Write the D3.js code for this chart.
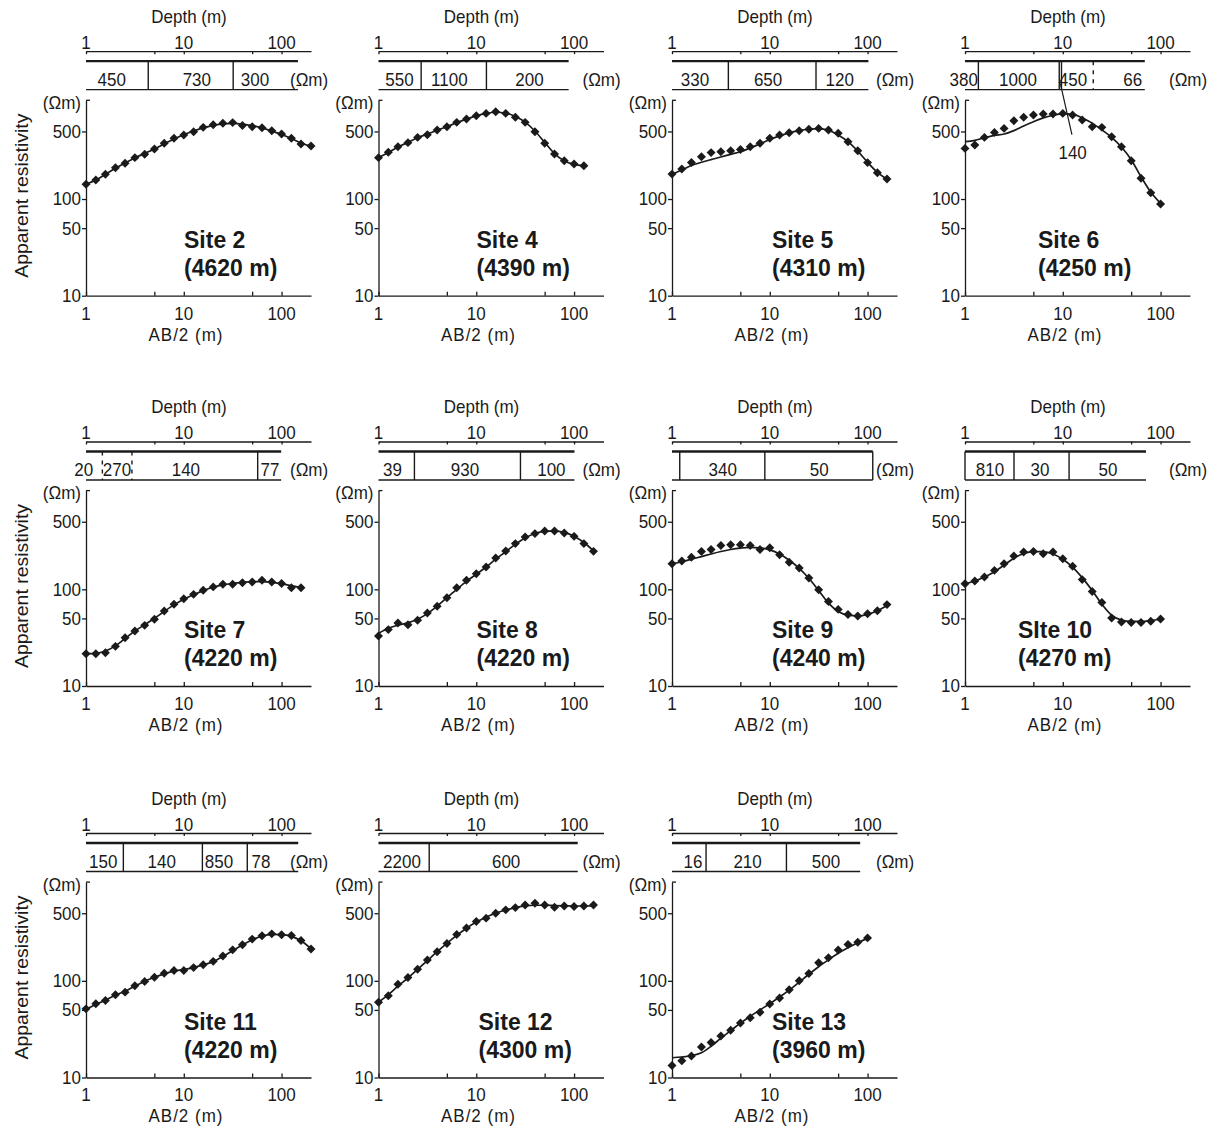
<!DOCTYPE html>
<html><head><meta charset="utf-8">
<script src="https://cdn.jsdelivr.net/npm/d3@7"></script>
<style>
body{margin:0;background:#fff;}
svg text{font-family:"Liberation Sans", Arial, Helvetica, sans-serif; fill:#1a1a1a;}
</style></head><body>
<svg id="chart" width="1219" height="1128"></svg>
<script>
// ---------- DATA ----------
// AB/2 electrode spacings (m)
const ab200 = [1, 1.26, 1.58, 2, 2.51, 3.16, 3.98, 5.01, 6.31, 7.94, 10, 12.6, 15.8, 20, 25.1, 31.6, 39.8, 50.1, 63.1, 79.4, 100, 126, 158, 200];
const ab158 = [1, 1.26, 1.58, 2, 2.51, 3.16, 3.98, 5.01, 6.31, 7.94, 10, 12.6, 15.8, 20, 25.1, 31.6, 39.8, 50.1, 63.1, 79.4, 100, 126, 158];
const ab126 = [1, 1.26, 1.58, 2, 2.51, 3.16, 3.98, 5.01, 6.31, 7.94, 10, 12.6, 15.8, 20, 25.1, 31.6, 39.8, 50.1, 63.1, 79.4, 100, 126];
const ab100 = [1, 1.26, 1.58, 2, 2.51, 3.16, 3.98, 5.01, 6.31, 7.94, 10, 12.6, 15.8, 20, 25.1, 31.6, 39.8, 50.1, 63.1, 79.4, 100];

const siteNames = ["Site 2", "Site 4", "Site 5", "Site 6", "Site 7", "Site 8", "Site 9", "SIte 10", "Site 11", "Site 12", "Site 13"];
const siteElev  = ["(4620 m)", "(4390 m)", "(4310 m)", "(4250 m)", "(4220 m)", "(4220 m)", "(4240 m)", "(4270 m)", "(4220 m)", "(4300 m)", "(3960 m)"];

// measured apparent resistivity (Ohm m)
const obs2  = [142,157,180,211,234,268,290,329,377,425,460,497,551,587,607,617,575,560,547,509,470,425,371,353];
const obs4  = [268,304,348,383,434,463,518,560,621,673,728,769,800,769,700,621,497,377,292,249,230,221];
const obs5  = [181,204,239,274,302,309,316,326,348,377,425,459,485,509,526,538,518,478,392,316,238,187,161];
const obs6  = [334,362,434,489,538,646,700,740,757,757,769,740,656,560,551,441,348,249,164,116,89];
const obs7  = [21.6,21.6,22.1,25.7,31.6,37,42.4,49,59.7,70,80,88.7,97.7,106,113,113,117,119,124,119,115,104,104];
const obs8  = [32.9,38.3,44.8,43.1,47.8,56.9,66.7,82,104,124,145,170,211,249,297,348,377,401,401,383,353,297,247];
const obs9  = [184,196,215,246,258,284,289,289,284,258,269,228,191,166,131,99,75,62,55,53,56,60,69.5];
const obs10 = [114,122,134,157,184,221,243,246,233,243,207,173,126,95,73,50.6,46,45.3,45.3,46.8,49.4];
const obs11 = [51.3,57.8,62.6,71.7,76.4,88.8,98.4,109,120,128,128,137,146.5,159,181,209,236,270,292,306,299,294,261,213];
const obs12 = [60,70,92,108,132,164,200,243,301,352,411,445,501,542,572,610,634,610,577,595,586,595,610];
const obs13 = [13.3,14.9,16.7,20.7,23,26.9,30.8,36.6,41.5,47.4,57.7,66.5,80.9,100,119,154,173,208,237,251,278];

// model (fitted) curves (Ohm m)
const fit2  = [142,157,180,208,236,266,296,330,372,418,462,505,545,578,600,605,595,575,545,505,465,422,380,350];
const fit4  = [268,302,345,385,430,470,515,560,615,670,725,768,790,775,715,625,505,385,295,248,228,220];
const fit5  = [181,200,222,240,256,272,290,308,338,372,412,450,484,510,527,535,515,460,392,313,240,189,161];
const fit6  = [392,405,430,455,470,510,570,630,690,735,760,755,690,610,520,435,345,255,170,118,90];
const fit7  = [21.6,21.8,23,26,31,37,43,50,59,69,79,88,97,105,111,115,118,120,120,118,114,109,104];
const fit8  = [35,39.5,42.5,45,49,56,67,82,100,121,143,170,205,245,292,340,378,398,403,388,355,305,250];
const fit9  = [184,193,205,218,232,246,258,267,272,268,256,232,200,165,130,97,72,59,54,53,55,60,68];
const fit10 = [114,122,134,152,178,210,235,246,245,232,205,170,132,97,70,54,48,46.5,46.5,47.5,49];
const fit11 = [51,57,63,71,78,88,99,109,118,126,131,137,146,158,178,205,235,266,290,302,300,288,260,215];
const fit12 = [60,72,88,107,131,162,200,244,295,350,405,455,500,540,570,595,605,605,600,596,594,594,595];
const fit13 = [16,16.3,16.8,18,21,25.5,30.5,36.5,43,50,58,68,80,97,117,140,165,193,220,248,275];

// layer resistivities (Ohm m)
const res2  = [450, 730, 300];
const res4  = [550, 1100, 200];
const res5  = [330, 650, 120];
const res6  = [380, 1000, 450, 66];
const res7  = [20, 270, 140, 77];
const res8  = [39, 930, 100];
const res9  = [340, 50];
const res10 = [810, 30, 50];
const res11 = [150, 140, 850, 78];
const res12 = [2200, 600];
const res13 = [16, 210, 500];

// layer boundary depths (m) and model bottom depth (m)
const bnd2  = [4.33, 32];
const bnd4  = [2.73, 12.7];
const bnd5  = [3.77, 29.7];
const bnd6  = [1.37, 9.2, 9.7, 20.5];
const bnd7  = [1.47, 2.95, 57];
const bnd8  = [2.33, 28.3];
const bnd9  = [1.2, 8.9, 113];
const bnd10 = [1.0, 3.17, 11.6];
const bnd11 = [2.41, 15.5, 44.6];
const bnd12 = [3.3];
const bnd13 = [2.23, 14.8];
const bottoms = [147, 88, 102, 69, 99, 101, 113, 71, 148, 109, 84];

// thin layer annotation for Site 6
const thinLayerLabel = "140";

// tick labels
const xTickValues = [1, 5, 10, 50, 100];
const xTickLabels = [1, 10, 100];
const yTickValues = [10, 50, 100, 500];

// ---------- LAYOUT (not data) ----------
const colX = [86, 378.5, 672, 965];
const rowY = [295.7, 686, 1077.5];
const W = 225, H = 195.4;
const ink = "#1a1a1a";
const FS = 17, SY = 1.08;

const panels = [
  {ab:ab200, obs:obs2,  fit:fit2,  res:res2,  bnd:bnd2,  col:0, row:0, dx:98, resAt:[1.83,13.6,53.5], dashed:[]},
  {ab:ab126, obs:obs4,  fit:fit4,  res:res4,  bnd:bnd4,  col:1, row:0, dx:98, resAt:[1.64,5.3,35], dashed:[]},
  {ab:ab158, obs:obs5,  fit:fit5,  res:res5,  bnd:bnd5,  col:2, row:0, dx:100, resAt:[1.72,9.6,52], dashed:[]},
  {ab:ab100, obs:obs6,  fit:fit6,  res:res6,  bnd:bnd6,  col:3, row:0, dx:73, resAt:[0.97,3.48,12.7,52], dashed:[3], note:true},
  {ab:ab158, obs:obs7,  fit:fit7,  res:res7,  bnd:bnd7,  col:0, row:1, dx:98, resAt:[0.95,2.07,10.5,76], dashed:[0,1]},
  {ab:ab158, obs:obs8,  fit:fit8,  res:res8,  bnd:bnd8,  col:1, row:1, dx:98, resAt:[1.39,7.66,58.6], dashed:[]},
  {ab:ab158, obs:obs9,  fit:fit9,  res:res9,  bnd:bnd9,  col:2, row:1, dx:100, resAt:[3.3,32], dashed:[]},
  {ab:ab100, obs:obs10, fit:fit10, res:res10, bnd:bnd10, col:3, row:1, dx:53, resAt:[1.8,5.85,29], dashed:[]},
  {ab:ab200, obs:obs11, fit:fit11, res:res11, bnd:bnd11, col:0, row:2, dx:98, resAt:[1.5,5.94,22.9,61.6], dashed:[]},
  {ab:ab158, obs:obs12, fit:fit12, res:res12, bnd:bnd12, col:1, row:2, dx:100, resAt:[1.74,20.2], dashed:[]},
  {ab:ab100, obs:obs13, fit:fit13, res:res13, bnd:bnd13, col:2, row:2, dx:100, resAt:[1.64,5.93,37.5], dashed:[]}
];

// ---------- DRAW ----------
const svg = d3.select("#chart");
const x = d3.scaleLog().domain([1, 200]).range([0, W]);
const y = d3.scaleLog().domain([10, 1050]).range([0, -H]);

// text centred vertically on (tx,ty), slightly stretched vertically like the original print
function label(g, tx, ty, str, anchor, extra) {
  const t = g.append("text")
    .attr("transform", `translate(${tx},${ty}) scale(1,${SY})`)
    .attr("dy", "0.35em")
    .attr("text-anchor", anchor || "middle")
    .style("font-size", FS + "px")
    .text(str);
  if (extra) extra(t);
  return t;
}

function styleAxis(sel) {
  sel.attr("font-family", null).attr("font-size", null);
  sel.select(".domain").attr("stroke", ink).attr("stroke-width", 1.3);
  sel.selectAll(".tick line").attr("stroke", ink).attr("stroke-width", 1.3);
  sel.selectAll(".tick text").remove();
}

panels.forEach((p, i) => {
  const g = svg.append("g").attr("transform", `translate(${colX[p.col]},${rowY[p.row]})`);

  // bottom AB/2 axis
  g.append("g")
    .call(d3.axisBottom(x).tickValues(xTickValues).tickSizeInner(-4).tickSizeOuter(0))
    .call(styleAxis);
  xTickLabels.forEach(v => label(g, x(v), 17.5, String(v)));
  label(g, 100, 38.5, "AB/2 (m)", "middle", t => t.style("letter-spacing", "1px"));

  // left resistivity axis
  g.append("g")
    .call(d3.axisLeft(y).tickValues(yTickValues).tickSizeInner(4).tickSizeOuter(0))
    .call(styleAxis);
  yTickValues.forEach(v => label(g, -5, y(v), String(v), "end"));
  g.append("line").attr("x1", 0).attr("x2", 4).attr("y1", y(1050)).attr("y2", y(1050))
    .attr("stroke", ink).attr("stroke-width", 1.3);
  label(g, -5, y(1050) + 2, "(Ωm)", "end");

  // depth axis
  g.append("g").attr("transform", "translate(0,-244.5)")
    .call(d3.axisTop(x).tickValues(xTickValues).tickSizeInner(-3).tickSizeOuter(0))
    .call(styleAxis);
  xTickLabels.forEach(v => label(g, x(v), -253, String(v)));
  label(g, 103, -279, "Depth (m)");

  // layer model box
  const bTop = -234.5, bBot = -206;
  const xEnd = x(bottoms[i]);
  g.append("line").attr("x1", 0).attr("x2", xEnd).attr("y1", bTop).attr("y2", bTop)
    .attr("stroke", ink).attr("stroke-width", 2.3);
  g.append("line").attr("x1", 0).attr("x2", xEnd).attr("y1", bBot).attr("y2", bBot)
    .attr("stroke", ink).attr("stroke-width", 1.3);
  g.selectAll(".bnd").data(p.bnd).join("line")
    .attr("x1", d => x(d)).attr("x2", d => x(d))
    .attr("y1", bTop).attr("y2", bBot)
    .attr("stroke", ink).attr("stroke-width", 1.4)
    .attr("stroke-dasharray", (d, j) => p.dashed.includes(j) ? "4,5" : null);
  p.res.forEach((r, j) => label(g, x(p.resAt[j]), -216, String(r)));
  label(g, 204, -216, "(Ωm)", "start");

  if (p.note) {
    g.append("line").attr("x1", x(9.45)).attr("y1", -212).attr("x2", x(12.4)).attr("y2", -161)
      .attr("stroke", ink).attr("stroke-width", 1.2);
    label(g, x(12.6), -143, thinLayerLabel);
  }

  // y title (first column only)
  if (p.col === 0) {
    g.append("text").attr("transform", `translate(${22 - colX[0]},-100) rotate(-90) scale(1.08,1)`)
      .attr("dy", "0.35em").attr("text-anchor", "middle").style("font-size", "18px")
      .text("Apparent resistivity");
  }

  // fitted curve
  const line = d3.line().x((d, j) => x(p.ab[j])).y(d => y(d)).curve(d3.curveMonotoneX);
  g.append("path").datum(p.fit).attr("d", line)
    .attr("fill", "none").attr("stroke", ink).attr("stroke-width", 1.7);

  // measured points
  const sym = d3.symbol().type(d3.symbolSquare).size(40);
  g.selectAll(".pt").data(p.obs).join("path")
    .attr("d", sym)
    .attr("transform", (d, j) => `translate(${x(p.ab[j])},${y(d)}) rotate(45)`)
    .attr("fill", ink);

  // site label
  g.append("text").attr("x", p.dx).attr("y", -56).attr("dy", "0.35em")
    .style("font-size", "23px").style("font-weight", "bold").text(siteNames[i]);
  g.append("text").attr("x", p.dx).attr("y", -28).attr("dy", "0.35em")
    .style("font-size", "23px").style("font-weight", "bold").text(siteElev[i]);
});
</script>
</body></html>
